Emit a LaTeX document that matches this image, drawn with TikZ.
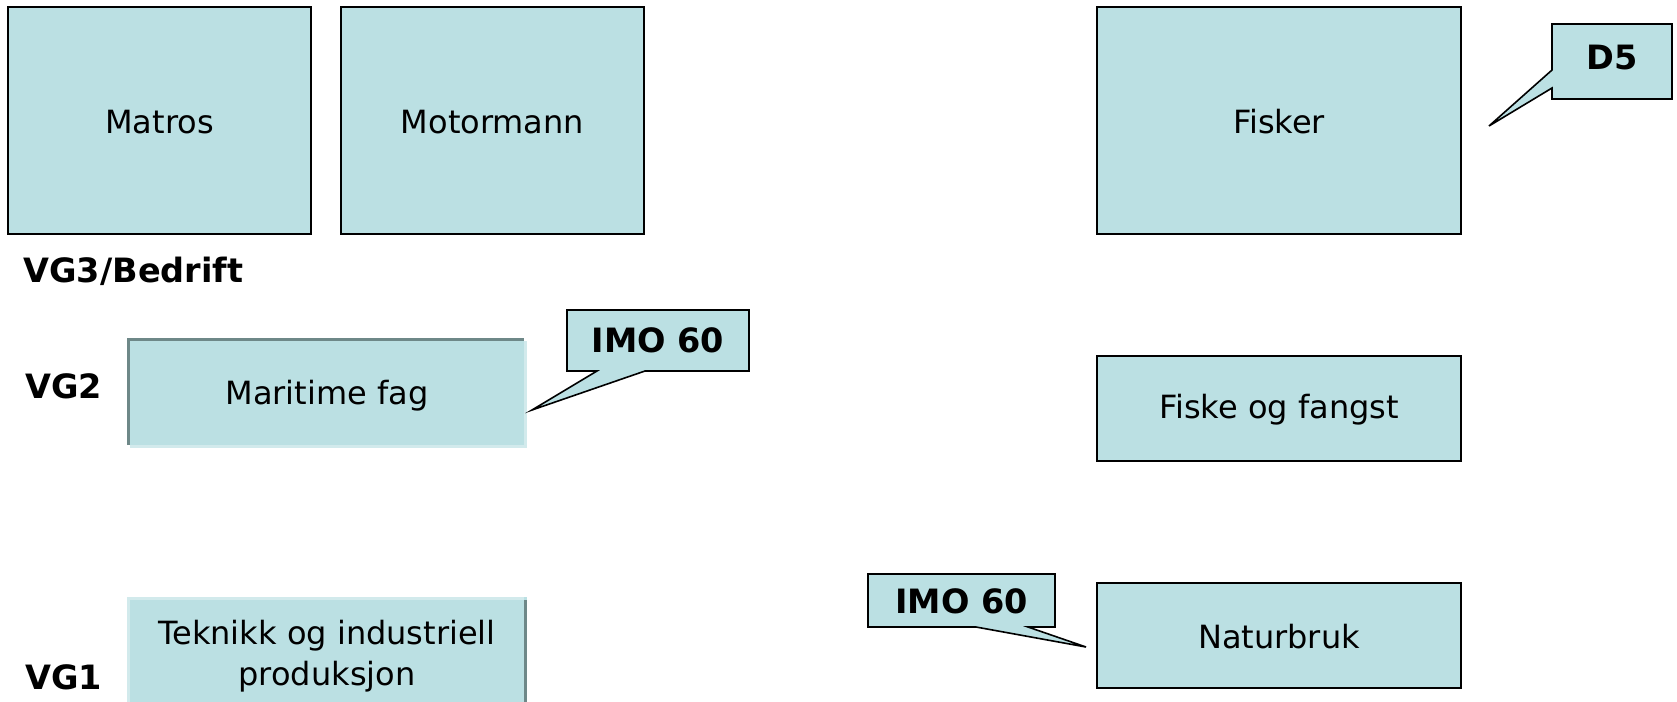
\documentclass[tikz,border=0pt]{standalone}
\usepackage{fontspec}
\setmainfont{DejaVu Sans}
\definecolor{boxfill}{HTML}{BBE0E3}
\definecolor{darkedge}{HTML}{6E8888}
\definecolor{lightedge}{HTML}{D2EAEC}
\tikzset{
  px/.style={x=1pt,y=-1pt},
  txt/.style={font=\fontsize{32}{41}\selectfont, text=black, align=center},
  lbl/.style={font=\fontsize{33.5}{40}\selectfont\bfseries, text=black, anchor=west},
  plainbox/.style={draw=black, line width=1.6pt, fill=boxfill},
  callout/.style={draw=black, line width=1.6pt, fill=boxfill, line join=miter},
}
\begin{document}
\begin{tikzpicture}[px]
\useasboundingbox (0,0) rectangle (1677,701);
% top row
\draw[plainbox] (8,7) rectangle (311,234);
\node[txt] (matros) at (159.5,122) {Matros};
\draw[plainbox] (341,7) rectangle (644,234);
\node[txt] (motor) at (492.5,122) {Motormann};
\draw[plainbox] (1097,7) rectangle (1461,234);
\node[txt] (fisker) at (1279,122) {Fisker};
% D5 callout
\draw[callout] (1552,24) -- (1672,24) -- (1672,99) -- (1552,99) -- (1552,88) -- (1489,126) -- (1552,70) -- cycle;
\node[lbl, anchor=center] (d5) at (1612,58) {D5};
% labels
\node[lbl] (vg3) at (20,271) {VG3/Bedrift};
\node[lbl] (vg2) at (22,386) {VG2};
\node[lbl] (vg1) at (22,677) {VG1};
% Maritime fag (bevelled)
\fill[lightedge] (130,341) rectangle (527,448);
\fill[boxfill] (127,338) rectangle (524,445);
\draw[darkedge, line width=3.2pt] (128.6,445) -- (128.6,339.6) -- (524,339.6);
\node[txt] (maritime) at (327,396) {Maritime fag};
% IMO 60 top callout
\draw[callout] (567,310) -- (749,310) -- (749,371) -- (645,371) -- (532,410) -- (597,371) -- (567,371) -- cycle;
\node[lbl, anchor=center] (imo1) at (658,340) {IMO 60};
% Teknikk (bevelled)
\fill[boxfill] (127,597) rectangle (527,705);
\draw[lightedge, line width=3pt] (128.5,705) -- (128.5,598.5) -- (524,598.5);
\draw[darkedge, line width=3.2pt] (525.4,600) -- (525.4,705);
\node[txt] (teknikk) at (327,656) {Teknikk og industriell\\produksjon};
% Fiske og fangst
\draw[plainbox] (1097,356) rectangle (1461,461);
\node[txt] (fiske) at (1279,410) {Fiske og fangst};
% Naturbruk
\draw[plainbox] (1097,583) rectangle (1461,688);
\node[txt] (natur) at (1279,637) {Naturbruk};
% IMO 60 bottom callout
\draw[callout] (868,574) -- (1055,574) -- (1055,627) -- (1028,627) -- (1086,647) -- (976,627) -- (868,627) -- cycle;
\node[lbl, anchor=center] (imo2) at (961.5,601) {IMO 60};
\end{tikzpicture}
\end{document}
